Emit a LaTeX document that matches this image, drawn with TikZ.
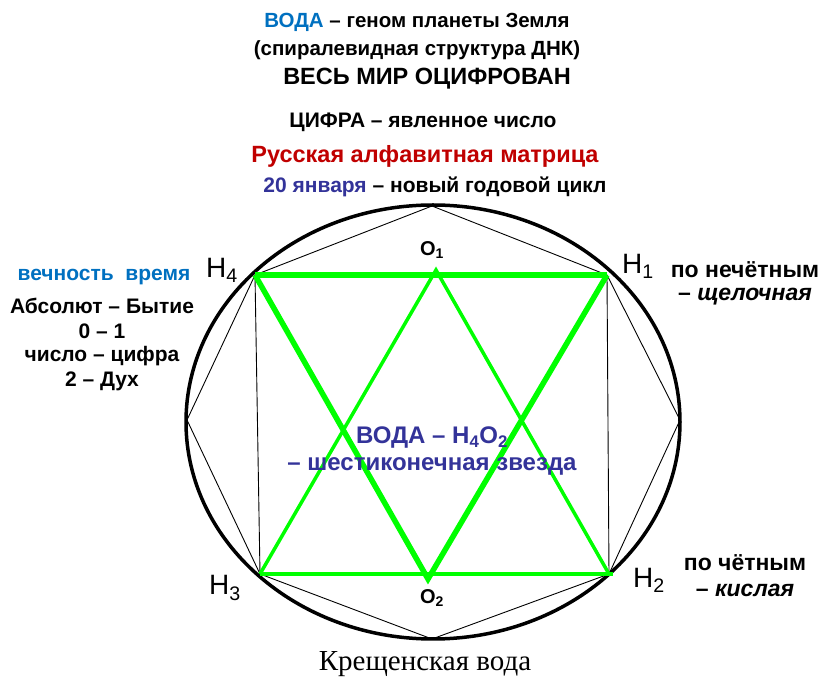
\documentclass[tikz,border=0pt]{standalone}
\usepackage{fontspec}
\setmainfont{Liberation Sans}
\newfontfamily\serifcap{Liberation Serif}
\definecolor{pblue}{RGB}{0,112,192}
\definecolor{pred}{RGB}{192,0,0}
\definecolor{pindigo}{RGB}{51,51,153}
\definecolor{pgreen}{RGB}{0,255,0}
\begin{document}
\begin{tikzpicture}[x=1pt,y=-1pt,
  txt/.style={inner sep=0pt,font=\bfseries\fontsize{20.5}{22}\selectfont,align=center},
  big/.style={font=\bfseries\fontsize{23.5}{25}\selectfont},
  side/.style={font=\bfseries\fontsize{21}{22}\selectfont},
  rside/.style={font=\bfseries\fontsize{23}{24}\selectfont},
  hlab/.style={inner sep=0pt,font=\fontsize{28}{30}\selectfont},
  olab/.style={inner sep=0pt,font=\bfseries\fontsize{20}{22}\selectfont},
  thin/.style={black,line width=0.9pt},
  gthick/.style={pgreen,line width=5.5pt,line join=miter},
  gmed/.style={pgreen,line width=3.5pt,line join=miter}]
\useasboundingbox (0,0) rectangle (823,684);
% octagon vertices
\coordinate (T) at (432,206);
\coordinate (H1) at (607,275);
\coordinate (R) at (680,420);
\coordinate (H2) at (609,574);
\coordinate (B) at (432,639);
\coordinate (H3) at (260,574);
\coordinate (L) at (187,420);
\coordinate (H4) at (255,275);
\coordinate (O1) at (436,270);
\coordinate (O2) at (428,579);
% ellipse
\draw[black,line width=3.5pt] (433,422) ellipse [x radius=247,y radius=217];
% thin lines
\draw[thin] (T) -- (H1) -- (R) -- (H2) -- (B) -- (H3) -- (L) -- (H4) -- cycle;
\draw[thin] (H4) -- (H3);
\draw[thin] (H1) -- (H2);
% green star
\draw[gmed] (H3) -- (O1) -- (H2);
\draw[gmed] (H3) -- ([xshift=4pt]H2);
\draw[gthick] (H4) -- (H1);
\draw[gthick] (H4) -- (O2) -- (H1);
% vertex labels
\node[hlab] (lH4) at (222,270) {H\textsubscript{4}};
\node[hlab] (lH1) at (638,266) {H\textsubscript{1}};
\node[hlab] (lH3) at (225,588) {H\textsubscript{3}};
\node[hlab] (lH2) at (649,580) {H\textsubscript{2}};
\node[olab] (lO1) at (432,250) {O\textsubscript{1}};
\node[olab] (lO2) at (432,598) {O\textsubscript{2}};
% top texts
\node[txt] (t1) at (417,22) {\textcolor{pblue}{ВОДА} – геном планеты Земля};
\node[txt] (t2) at (417,50) {(спиралевидная структура ДНК)};
\node[txt,big] (t3) at (427,79) {ВЕСЬ МИР ОЦИФРОВАН};
\node[txt,side] (t4) at (423,122) {ЦИФРА – явленное число};
\node[txt,big,text=pred] (t5) at (425,156) {Русская алфавитная матрица};
\node[txt,side] (t6) at (435,187) {\textcolor{pindigo}{20 января} – новый годовой цикл};
% left texts
\node[txt,side,text=pblue] (l1) at (104,277) {вечность\ \ время};
\node[txt,side] (l2) at (102,306) {Абсолют – Бытие};
\node[txt,side] (l3) at (102,331) {0 – 1};
\node[txt,side] (l4) at (102,356) {число – цифра};
\node[txt,side] (l5) at (102,381) {2 – Дух};
% right texts
\node[txt,rside] (r1) at (745,270) {по нечётным};
\node[txt,rside] (r2) at (745,297) {– \textit{щелочная}};
\node[txt,rside] (r3) at (745,563) {по чётным};
\node[txt,rside] (r4) at (745,590) {– \textit{кислая}};
% center
\node[txt,text=pindigo,font=\bfseries\fontsize{24}{26}\selectfont] (c1) at (432,438) {ВОДА – H\textsubscript{4}O\textsubscript{2}};
\node[txt,text=pindigo,font=\bfseries\fontsize{24}{26}\selectfont] (c2) at (432,466) {– шестиконечная звезда};
% caption
\node[inner sep=0pt,font=\serifcap\fontsize{29}{30}\selectfont] (cap) at (425,664) {Крещенская вода};
\end{tikzpicture}
\end{document}
